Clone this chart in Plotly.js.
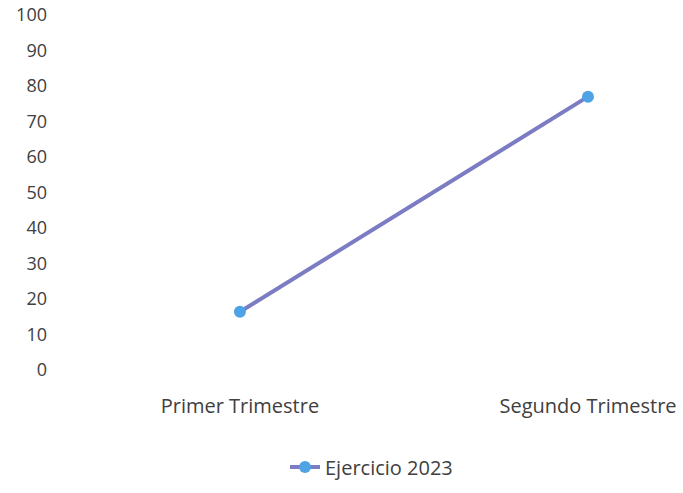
<!DOCTYPE html>
<html>
<head>
<meta charset="utf-8">
<script src="https://cdn.plot.ly/plotly-3.0.1.min.js"></script>
<style>html,body{margin:0;padding:0;background:#fff;}#chart{width:683px;height:493px;}</style>
</head>
<body>
<div id="chart"></div>
<script>
const categories = ["Primer Trimestre", "Segundo Trimestre"];
const seriesName = "Ejercicio 2023";
const values = [16.4, 77];
const yTicks = [0, 10, 20, 30, 40, 50, 60, 70, 80, 90, 100];

const trace = {
  x: [0, 1],
  y: values,
  name: seriesName,
  type: 'scatter',
  mode: 'lines+markers',
  line: {color: '#7b7cc4', width: 4},
  marker: {color: '#4da3e6', size: 12, line: {width: 0}}
};

const layout = {
  width: 683, height: 493,
  margin: {l: 60, r: 0, t: 15, b: 123},
  paper_bgcolor: '#ffffff', plot_bgcolor: '#ffffff',
  font: {family: '"Open Sans", sans-serif', color: '#404040', size: 18},
  showlegend: true,
  legend: {orientation: 'h', x: 0.5, xanchor: 'center', y: -0.273, yanchor: 'middle',
           font: {size: 20, color: '#404040'}},
  xaxis: {
    range: [-0.517, 1.273], tickvals: [0, 1], ticktext: categories,
    showgrid: false, zeroline: false, showline: false, ticks: '',
    ticklabelstandoff: 22, automargin: false, fixedrange: true,
    tickfont: {size: 20, color: '#404040'}
  },
  yaxis: {
    range: [0, 100], tickvals: yTicks, ticktext: yTicks.map(String),
    showgrid: false, zeroline: false, showline: false, ticks: '',
    ticklabelstandoff: 12, automargin: false, fixedrange: true,
    tickfont: {size: 18, color: '#404040'}
  }
};

Plotly.newPlot('chart', [trace], layout, {displayModeBar: false, staticPlot: true});
</script>
</body>
</html>
